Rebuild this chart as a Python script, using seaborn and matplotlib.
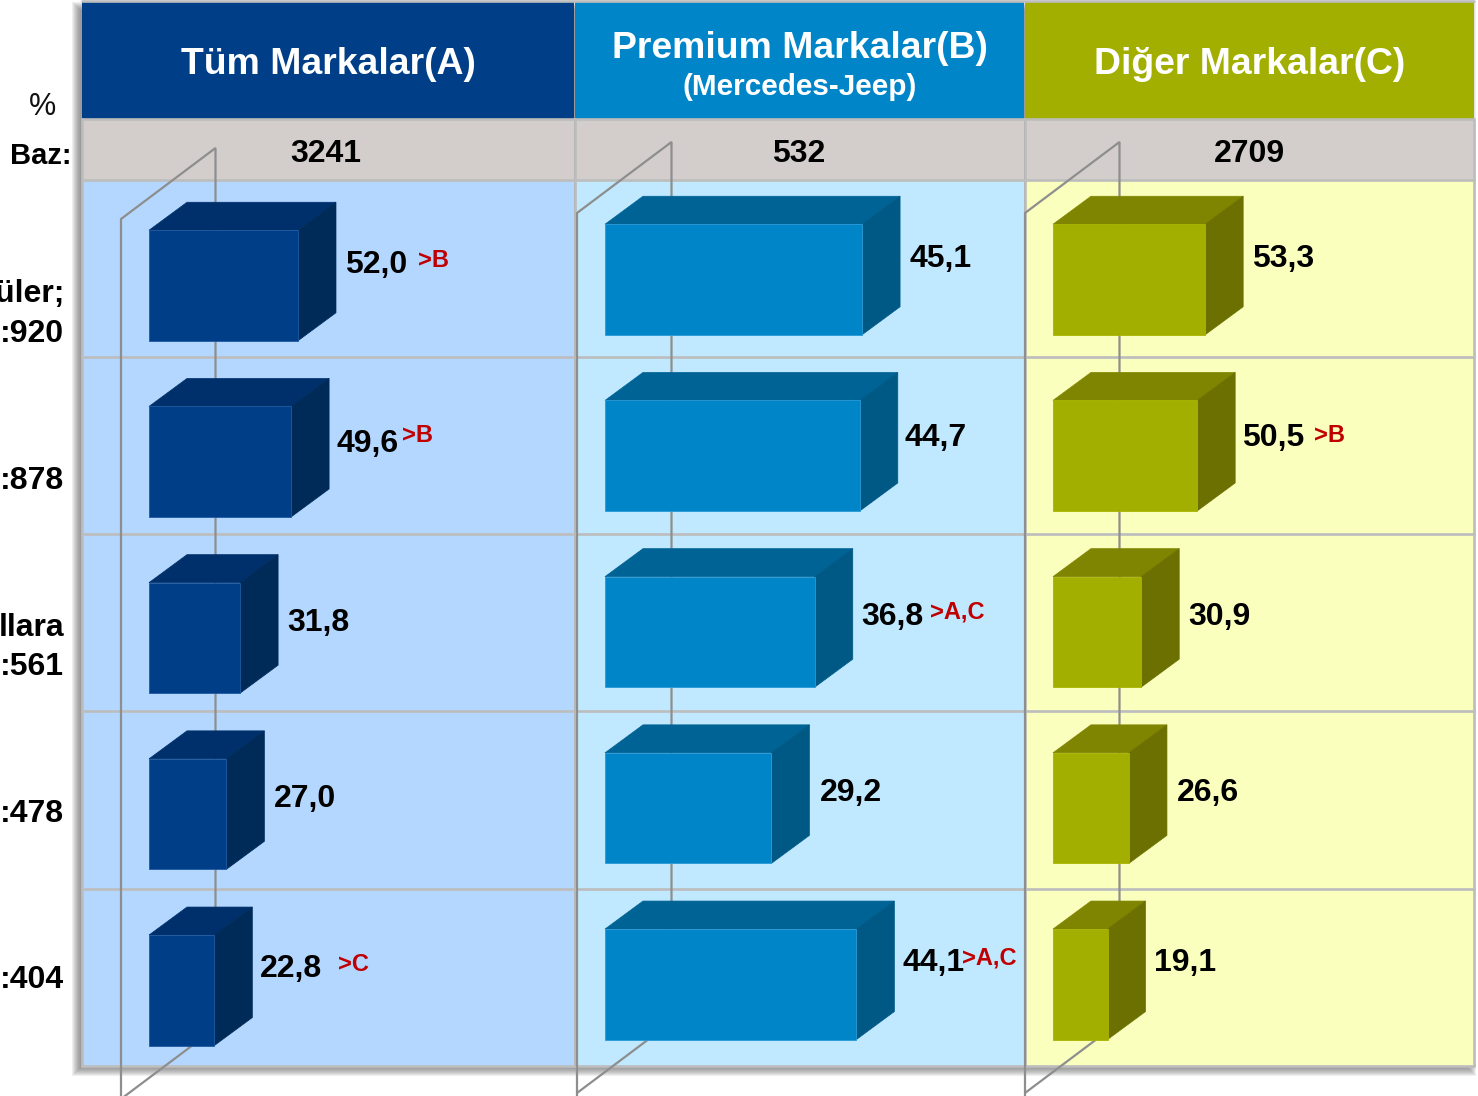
import matplotlib
matplotlib.use("Agg")
import matplotlib.pyplot as plt
from matplotlib.patches import Polygon, Rectangle
import pandas as pd
import seaborn as sns

sns.set_theme(style="white")
plt.rcParams['font.family'] = ['Liberation Sans', 'DejaVu Sans']

W, H = 1478, 1096

rows = ["r1", "r2", "r3", "r4", "r5"]
row_labels = [("üler;", 294), (":920", 334), (":878", 481), ("llara", 628), (":561", 667), (":478", 814), (":404", 980)]

values_a = [52.0, 49.6, 31.8, 27.0, 22.8]
values_b = [45.1, 44.7, 36.8, 29.2, 44.1]
values_c = [53.3, 50.5, 30.9, 26.6, 19.1]

sig_a = [">B", ">B", "", "", ">C"]
sig_b = ["", "", ">A,C", "", ">A,C"]
sig_c = ["", ">B", "", "", ""]

sig_gap_a = [10, 1, 0, 0, 14]
sig_gap_b = [0, 0, 5, 0, -4]
sig_gap_c = [0, 7, 0, 0, 0]

sig_lift_a = [25, 26, 0, 0, 26]
sig_lift_b = [0, 0, 20, 0, 26]
sig_lift_c = [0, 20, 0, 0, 0]

bases = ["3241", "532", "2709"]

panels = [
    dict(x0=82, x1=574, start=149, scale=2.865, first=285.5, values=values_a, sig=sig_a, gap=sig_gap_a, lift=sig_lift_a, base=bases[0],
         head="#003F87", bg="#B4D7FF", front="#003F87", top="#00306B", side="#002A58", edge="#1F5AA0",
         title="Tüm Markalar(A)", sub=None, wall=121, base_dx=-2, title_dx=0),
    dict(x0=575, x1=1024, start=605, scale=5.70, first=279.5, values=values_b, sig=sig_b, gap=sig_gap_b, lift=sig_lift_b, base=bases[1],
         head="#0085C9", bg="#C0E8FF", front="#0085C9", top="#006395", side="#005885", edge="#2A9AD6",
         title="Premium Markalar(B)", sub="(Mercedes-Jeep)", wall=577, base_dx=-1, title_dx=0),
    dict(x0=1025, x1=1474, start=1053, scale=2.855, first=279.5, values=values_c, sig=sig_c, gap=sig_gap_c, lift=sig_lift_c, base=bases[2],
         head="#A3AF00", bg="#FAFFBE", front="#A3AF00", top="#7F8500", side="#6B7000", edge="#A8B300",
         title="Diğer Markalar(C)", sub=None, wall=1025, base_dx=0, title_dx=0),
]

HEAD_B, BAND_B, PLOT_T, PLOT_B = 119, 180, 180, 1066
ROW_LINES = [357, 534, 711, 889]
ROW_STEP, BAR_H, DX, DY = 176.2, 110.5, 38, 28
LABEL_DX = [47, 45, 47, 48, 46]
LABEL_LIFT = [21, 18, 15, 15, 21]
SIG_X = 110

fig = plt.figure(figsize=(W / 100, H / 100), dpi=100, facecolor="white")

bg = fig.add_axes([0, 0, 1, 1])
bg.set_xlim(0, W)
bg.set_ylim(H, 0)
bg.axis("off")

# soft frame shadow, cast down and to the left
for grow in range(6, -3, -1):
    bg.add_patch(Rectangle((78 - grow, 8 - grow), 1392 + 2 * grow, 1062 + 2 * grow,
                           fc="#555555", ec="none", alpha=0.09, zorder=1))

for p in panels:
    w = p["x1"] - p["x0"]
    bg.add_patch(Rectangle((p["x0"], 1), w, HEAD_B - 1, fc=p["head"], ec="none", zorder=2))
    bg.add_patch(Rectangle((p["x0"], HEAD_B), w, BAND_B - HEAD_B, fc="#D3CECC", ec="none", zorder=2))
    bg.add_patch(Rectangle((p["x0"], PLOT_T), w, PLOT_B - PLOT_T, fc=p["bg"], ec="none", zorder=2))
    cx = (p["x0"] + p["x1"]) / 2
    if p["sub"]:
        bg.text(cx, 48, p["title"], color="white", weight="bold", fontsize=26.9, ha="center", va="center", zorder=6)
        bg.text(cx, 87, p["sub"], color="white", weight="bold", fontsize=21.4, ha="center", va="center", zorder=6)
    else:
        bg.text(cx, 65, p["title"], color="white", weight="bold", fontsize=26.9, ha="center", va="center", zorder=6)
    bg.text(cx + p["base_dx"], 154, p["base"], color="black", weight="bold", fontsize=23,
            ha="center", va="center", zorder=6)

    # side-wall wireframe of the 3D chart
    xl = p["wall"]
    xr = xl + 94.5
    yt = 219 if p["x0"] < 100 else 213
    yb = 1099 if p["x0"] < 100 else 1093
    bg.plot([xl, xl, xr, xr], [H + 5, yt, yt - 71, yb - 71], color="#8E8E8E", lw=1.6, zorder=4, solid_joinstyle="miter")
    bg.plot([xl, xr], [yb, yb - 71], color="#8E8E8E", lw=1.6, zorder=4)

# table rules
for x in [82, 574.5, 1024.5, 1474]:
    bg.plot([x, x], [119, 1066], color="#BDBDBD", lw=1.9, zorder=3)
for y in [1, 119, 180] + ROW_LINES + [1066]:
    bg.plot([82, 1474], [y, y], color="#BDBDBD", lw=1.9, zorder=3)

bg.text(42, 107, "%", fontsize=22, color="#111111", ha="center", va="center", zorder=6)
bg.text(72, 156, "Baz:", fontsize=21, weight="bold", color="black", ha="right", va="center", zorder=6)
for txt, y in row_labels:
    bg.text(64, y, txt, fontsize=23, weight="bold", color="black", ha="right", va="center", zorder=6)

# bars
for p in panels:
    ax = fig.add_axes([p["x0"] / W, 1 - PLOT_B / H, (p["x1"] - p["x0"]) / W, (PLOT_B - PLOT_T) / H])
    ax.patch.set_alpha(0)
    df = pd.DataFrame({"row": rows, "value": p["values"]})
    sns.barplot(data=df, x="value", y="row", orient="h", color=p["front"], saturation=1,
                width=BAR_H / ROW_STEP, ax=ax, zorder=5)
    ax.set_xlim((p["x0"] - p["start"]) / p["scale"], (p["x1"] - p["start"]) / p["scale"])
    ax.set_ylim((PLOT_B - p["first"]) / ROW_STEP, (PLOT_T - p["first"]) / ROW_STEP)
    ax.axis("off")
    dx = DX / p["scale"]
    dy = DY / ROW_STEP
    for i, bar in enumerate(ax.patches):
        bar.set_edgecolor(p["edge"])
        bar.set_linewidth(0.6)
        x0 = bar.get_x()
        x1 = x0 + bar.get_width()
        yt = bar.get_y()
        yb = yt + bar.get_height()
        ax.add_patch(Polygon([(x0, yt), (x1, yt), (x1 + dx, yt - dy), (x0 + dx, yt - dy)],
                             fc=p["top"], ec=p["top"], lw=0.5, zorder=4.5))
        ax.add_patch(Polygon([(x1, yt), (x1 + dx, yt - dy), (x1 + dx, yb - dy), (x1, yb)],
                             fc=p["side"], ec=p["side"], lw=0.5, zorder=4.5))
        label = f"{p['values'][i]:.1f}".replace(".", ",")
        ax.annotate(label, (x1, (yt + yb) / 2), xytext=(LABEL_DX[i], LABEL_LIFT[i]), textcoords="offset pixels",
                    fontsize=23, weight="bold", color="black", ha="left", va="center", zorder=6, annotation_clip=False)
        if p["sig"][i]:
            ax.annotate(p["sig"][i], (x1, (yt + yb) / 2),
                        xytext=(SIG_X + p["gap"][i], p["lift"][i]),
                        textcoords="offset pixels", fontsize=17, weight="bold", color="#C00000",
                        ha="left", va="center", zorder=6, annotation_clip=False)

fig.savefig("out.png", dpi=100)
